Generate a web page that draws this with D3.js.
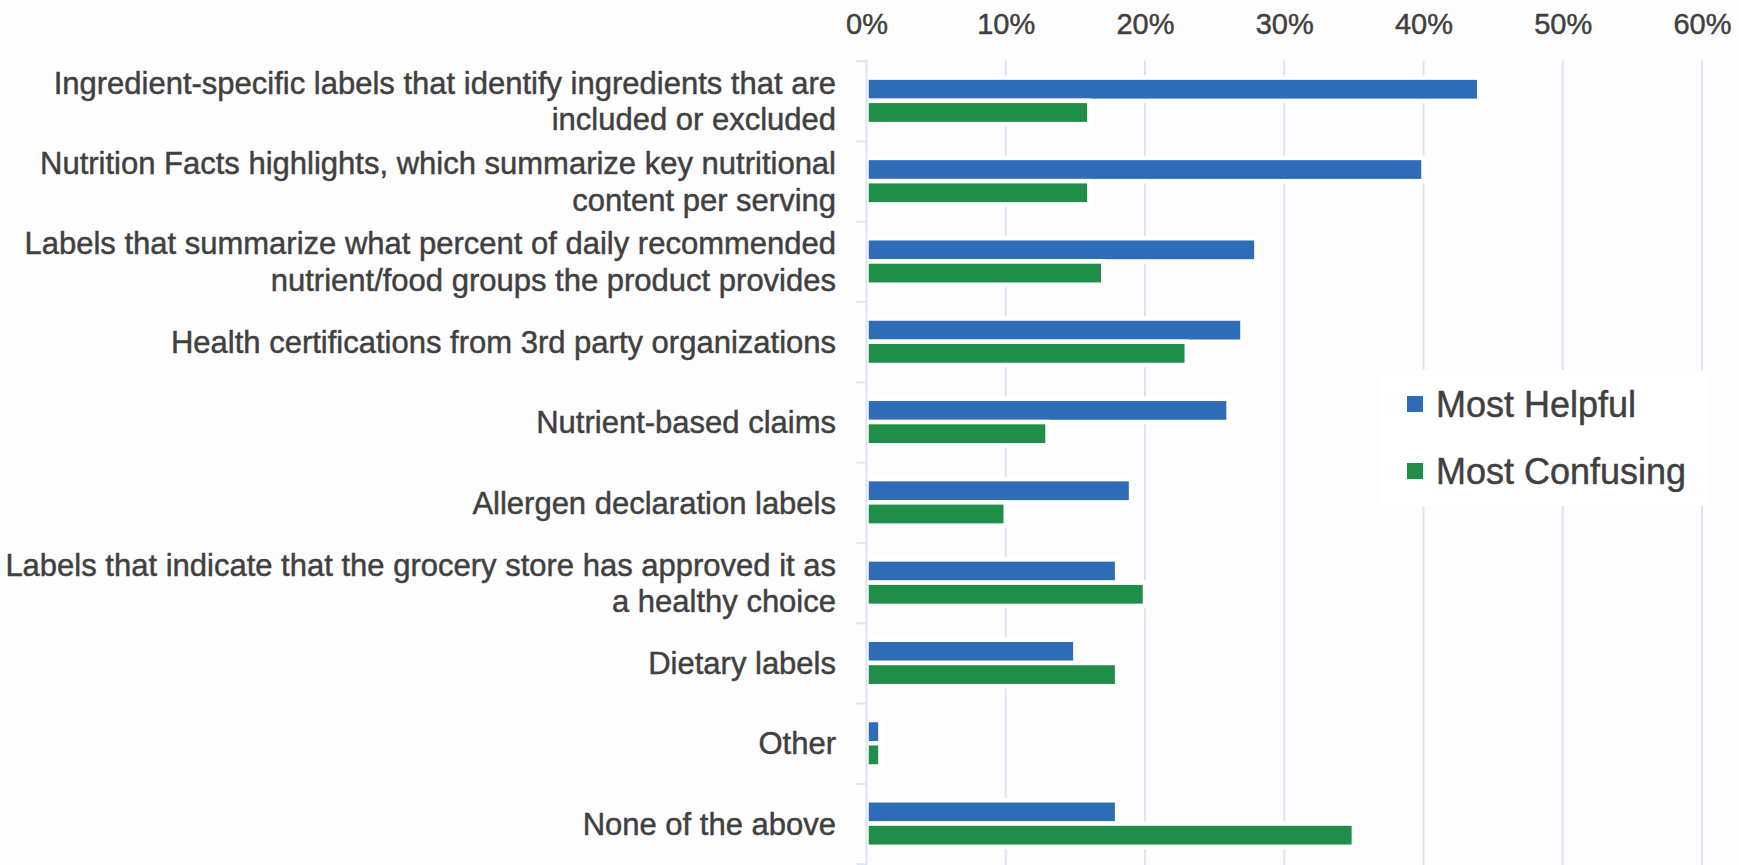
<!DOCTYPE html>
<html>
<head>
<meta charset="utf-8">
<script src="https://cdn.jsdelivr.net/npm/d3@7/dist/d3.min.js"></script>
<style>
  html, body { margin: 0; padding: 0; background: #fdfdfd; }
  svg { display: block; font-family: "Liberation Sans", Arial, sans-serif; }
  svg text { stroke: #404040; stroke-width: 0.45px; }
</style>
</head>
<body>
<svg id="chart" width="1739" height="865"></svg>
<script>
// Survey results: which food label types shoppers find most helpful / most confusing
const categories = [
  "Ingredient-specific labels that identify ingredients that are\nincluded or excluded",
  "Nutrition Facts highlights, which summarize key nutritional\ncontent per serving",
  "Labels that summarize what percent of daily recommended\nnutrient/food groups the product provides",
  "Health certifications from 3rd party organizations",
  "Nutrient-based claims",
  "Allergen declaration labels",
  "Labels that indicate that the grocery store has approved it as\na healthy choice",
  "Dietary labels",
  "Other",
  "None of the above"
];
const seriesNames = ["Most Helpful", "Most Confusing"];
const mostHelpful = [44, 40, 28, 27, 26, 19, 18, 15, 1, 18];
const mostConfusing = [16, 16, 17, 23, 13, 10, 20, 18, 1, 35];
const tickValues = [0, 10, 20, 30, 40, 50, 60];
const seriesColors = ["#2f6cb7", "#1e8e48"];

const rows = categories.map((c, i) => ({
  category: c,
  values: [
    { series: seriesNames[0], value: mostHelpful[i] },
    { series: seriesNames[1], value: mostConfusing[i] }
  ]
}));

const svg = d3.select("#chart");
const textColor = "#404040";
const gridColor = "#dce6f2";

const plotTop = 60.7, plotBottom = 863.7;
const x = d3.scaleLinear().domain([0, 60]).range([866.5, 1702]);
const y = d3.scaleBand().domain(categories).range([plotTop, plotBottom]);
const yInner = d3.scaleBand().domain(seriesNames)
  .range([0, y.bandwidth()]).paddingInner(0).paddingOuter(0.727);
const color = d3.scaleOrdinal().domain(seriesNames).range(seriesColors);

// vertical gridlines
svg.append("g")
  .selectAll("line")
  .data(tickValues.slice(1))
  .join("line")
  .attr("x1", d => x(d)).attr("x2", d => x(d))
  .attr("y1", plotTop).attr("y2", 865)
  .attr("stroke", gridColor).attr("stroke-width", 2);

// top percentage labels
const topAxis = d3.axisTop(x).tickValues(tickValues).tickSize(0).tickPadding(0)
  .tickFormat(d => d + "%");
const gTop = svg.append("g").attr("transform", "translate(0,34)").call(topAxis);
gTop.select(".domain").remove();
gTop.selectAll("text")
  .attr("dy", 0)
  .attr("y", 0)
  .attr("fill", textColor)
  .style("font-size", "29px")
  .style("font-family", "'Liberation Sans', Arial, sans-serif");

// bars, with white outlines
const groups = svg.append("g")
  .selectAll("g")
  .data(rows)
  .join("g")
  .attr("transform", d => `translate(0,${y(d.category)})`);

groups.selectAll("rect")
  .data(d => d.values)
  .join("rect")
  .attr("x", x(0))
  .attr("y", d => yInner(d.series))
  .attr("width", d => x(d.value) - x(0))
  .attr("height", yInner.bandwidth())
  .attr("fill", d => color(d.series))
  .attr("stroke", "#ffffff")
  .attr("stroke-width", 4.5);

// category axis: line with ticks at band boundaries
const idx = d3.scaleLinear().domain([0, categories.length]).range([plotTop, plotBottom]);
const leftAxis = d3.axisLeft(idx).ticks(categories.length).tickSize(10).tickSizeOuter(10)
  .tickFormat("");
const gLeft = svg.append("g").attr("transform", `translate(${x(0)},0)`).call(leftAxis);
gLeft.select(".domain").remove();
gLeft.selectAll(".tick line").attr("stroke", gridColor).attr("stroke-width", 2);
gLeft.append("line")
  .attr("x1", 0).attr("x2", 0).attr("y1", plotTop - 1).attr("y2", 865)
  .attr("stroke", gridColor).attr("stroke-width", 2);

// category labels, right aligned, wrapped on "\n"
const labelSize = 31, lineGap = 36.5;
const labels = svg.append("g")
  .selectAll("text")
  .data(categories)
  .join("text")
  .attr("text-anchor", "end")
  .attr("fill", textColor)
  .style("font-size", labelSize + "px");
labels.each(function (d) {
  const lines = d.split("\n");
  const cy = y(d) + y.bandwidth() / 2;
  const first = cy - (lines.length - 1) * lineGap / 2 + 0.36 * labelSize;
  d3.select(this).selectAll("tspan")
    .data(lines)
    .join("tspan")
    .attr("x", 836)
    .attr("y", (l, i) => first + i * lineGap)
    .text(l => l);
});

// legend
const legend = svg.append("g");
legend.append("rect")
  .attr("x", 1378).attr("y", 370).attr("width", 328).attr("height", 136)
  .attr("fill", "#ffffff");
const items = legend.selectAll("g.item")
  .data(seriesNames)
  .join("g")
  .attr("class", "item")
  .attr("transform", (d, i) => `translate(1407,${404 + i * 67})`);
items.append("rect")
  .attr("x", 0).attr("y", -8).attr("width", 16).attr("height", 16)
  .attr("fill", d => color(d));
items.append("text")
  .attr("x", 29).attr("y", 12.7)
  .attr("fill", textColor)
  .style("font-size", "36px")
  .text(d => d);
</script>
</body>
</html>
